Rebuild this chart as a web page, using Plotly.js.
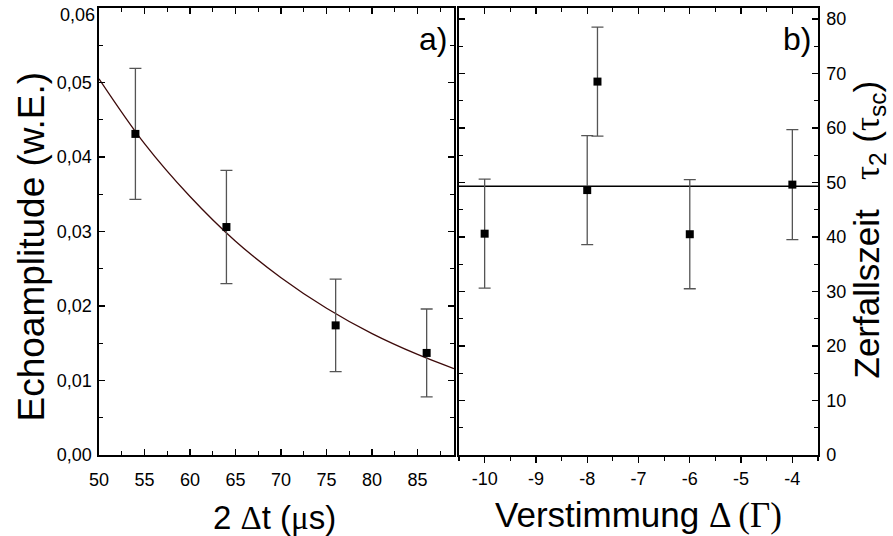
<!DOCTYPE html>
<html>
<head>
<meta charset="utf-8">
<script src="https://cdn.plot.ly/plotly-3.0.1.min.js"></script>
<style>html,body{margin:0;padding:0;background:#fff;}#chart{width:893px;height:536px;}</style>
</head>
<body>
<div id="chart"></div>
<script>
// Panel a: echo amplitude vs 2Δt
const timeA = [54, 64, 76, 86];
const ampA = [0.0431, 0.0306, 0.0174, 0.0137];
const ampErrA = [0.0088, 0.0076, 0.0062, 0.0059];
// fit curve
const fitTime = [50, 55, 60, 65, 70, 75, 80, 85, 89];
const fitAmp = [0.0505, 0.0418, 0.0347, 0.0287, 0.0238, 0.0197, 0.0163, 0.0135, 0.0116];
const ampTickVals = [0, 0.01, 0.02, 0.03, 0.04, 0.05];
const ampTickText = ['0,00', '0,01', '0,02', '0,03', '0,04', '0,05'];
const ampTopTickVal = 0.06;
const ampTopTickText = '0,06';

// Panel b: decay time vs detuning
const detB = [-10, -8, -7.8, -6, -4];
const tauB = [40.6, 48.6, 68.5, 40.5, 49.6];
const tauErrB = [10, 10, 10, 10, 10.1];
const meanLineX = [-10.5, -3.5];
const meanLineY = [49.3, 49.3];
const detTickVals = [-10, -9, -8, -7, -6, -5, -4];
const detTickText = ['-10', '-9', '-8', '-7', '-6', '-5', '-4'];

const serif = "Liberation Serif";
const font = "Liberation Sans, Arial, sans-serif";

const traces = [
  {x: fitTime, y: fitAmp, type: 'scatter', mode: 'lines', line: {color: '#3d0a0a', width: 1.3, shape: 'spline'},
   xaxis: 'x', yaxis: 'y', hoverinfo: 'skip', showlegend: false},
  {x: timeA, y: ampA, type: 'scatter', mode: 'markers', marker: {symbol: 'square', size: 8, color: '#000'},
   error_y: {type: 'data', array: ampErrA, visible: true, color: '#555', thickness: 1.3, width: 6},
   xaxis: 'x', yaxis: 'y', showlegend: false},
  {x: meanLineX, y: meanLineY, type: 'scatter', mode: 'lines', line: {color: '#000', width: 1.3},
   xaxis: 'x2', yaxis: 'y2', hoverinfo: 'skip', showlegend: false},
  {x: detB, y: tauB, type: 'scatter', mode: 'markers', marker: {symbol: 'square', size: 8, color: '#000'},
   error_y: {type: 'data', array: tauErrB, visible: true, color: '#555', thickness: 1.3, width: 6},
   xaxis: 'x2', yaxis: 'y2', showlegend: false},
  {x: [-20], y: [-20], type: 'scatter', mode: 'markers', xaxis: 'x3', yaxis: 'y2', showlegend: false, hoverinfo: 'skip',
   marker: {size: 1, color: 'rgba(0,0,0,0)'}}
];

const common = {showline: true, linecolor: '#000', linewidth: 1.6, showgrid: false, zeroline: false,
  tickcolor: '#000', tickfont: {size: 18, color: '#000', family: font}, ticklen: 6, tickwidth: 1.2};

const layout = {
  width: 893, height: 536,
  margin: {l: 99, r: 75, t: 8, b: 81},
  paper_bgcolor: '#fff', plot_bgcolor: '#fff',
  font: {family: font, color: '#000'},
  xaxis: Object.assign({}, common, {
    domain: [0, 0.4937], range: [50, 89], dtick: 5, tick0: 50, ticks: 'inside', mirror: 'ticks',
    minor: {dtick: 2.5, tick0: 50, ticks: 'inside', ticklen: 4, tickcolor: '#000'},
    anchor: 'y', ticklabelstandoff: 8
  }),
  yaxis: Object.assign({}, common, {
    range: [0, 0.06], tickmode: 'array', tickvals: ampTickVals, ticktext: ampTickText,
    ticks: 'inside', mirror: 'ticks', ticklabelstandoff: 2,
    minor: {dtick: 0.005, tick0: 0, ticks: 'inside', ticklen: 4, tickcolor: '#000'},
    anchor: 'x'
  }),
  xaxis2: Object.assign({}, common, {
    domain: [0.5007, 1], range: [-10.5, -3.5], tickmode: 'array', tickvals: detTickVals, ticktext: detTickText,
    ticks: 'outside', ticklabelstandoff: 1,
    minor: {dtick: 0.5, tick0: -10, ticks: 'outside', ticklen: 4, tickcolor: '#000'},
    anchor: 'y2'
  }),
  xaxis3: Object.assign({}, common, {
    domain: [0.5007, 1], range: [-10.5, -3.5], dtick: 1, tick0: -10, ticks: 'inside',
    minor: {dtick: 0.5, tick0: -10, ticks: 'inside', ticklen: 4, tickcolor: '#000'},
    showticklabels: false, side: 'top', overlaying: 'x2', anchor: 'y2'
  }),
  yaxis2: Object.assign({}, common, {
    range: [0, 82], dtick: 10, tick0: 0, ticks: 'inside', mirror: 'ticks', side: 'right', ticklabelstandoff: 3,
    minor: {dtick: 5, tick0: 0, ticks: 'inside', ticklen: 4, tickcolor: '#000'},
    anchor: 'x2'
  }),
  annotations: [
    // top tick label of panel a (drawn slightly below the frame edge, as in the original)
    {text: ampTopTickText, xref: 'paper', yref: 'y', x: 0, y: ampTopTickVal, xanchor: 'right', yanchor: 'middle',
     xshift: -2, yshift: -7, showarrow: false, font: {size: 18, color: '#000', family: font}},
    {text: 'a)', xref: 'paper', yref: 'paper', x: 0.4937, y: 0.975, xanchor: 'right', yanchor: 'top', xshift: -5,
     showarrow: false, font: {size: 32, color: '#000'}},
    {text: 'b)', xref: 'paper', yref: 'paper', x: 1, y: 0.975, xanchor: 'right', yanchor: 'top', xshift: -5,
     showarrow: false, font: {size: 32, color: '#000'}},
    // axis titles
    {text: "2 <span style=\"font-family:" + serif + "\">Δ</span>t (<span style=\"font-family:" + serif + "\">μ</span>s)",
     xref: 'paper', yref: 'paper', x: 0.2447, y: 0, xanchor: 'center', yanchor: 'middle', yshift: -62,
     showarrow: false, font: {size: 33, color: '#000'}},
    {text: "Verstimmung <span style=\"font-family:" + serif + "\">Δ (Γ)</span>",
     xref: 'paper', yref: 'paper', x: 0.7504, y: 0, xanchor: 'center', yanchor: 'middle', yshift: -60,
     showarrow: false, font: {size: 35, color: '#000'}},
    {text: 'Echoamplitude (w.E.)', textangle: -90,
     xref: 'paper', yref: 'paper', x: 0, y: 0.5, xanchor: 'center', yanchor: 'middle', xshift: -68, yshift: -15,
     showarrow: false, font: {size: 37, color: '#000'}},
    {text: "Zerfallszeit   <span style=\"font-family:" + serif + "\">τ</span><sub>2</sub> (<span style=\"font-family:" + serif + "\">τ</span><sub>sc</sub>)",
     textangle: -90,
     xref: 'paper', yref: 'paper', x: 1, y: 0.5, xanchor: 'center', yanchor: 'middle', xshift: 50, yshift: 2,
     showarrow: false, font: {size: 35, color: '#000'}}
  ]
};

Plotly.newPlot('chart', traces, layout, {displayModeBar: false, staticPlot: true});
</script>
</body>
</html>
